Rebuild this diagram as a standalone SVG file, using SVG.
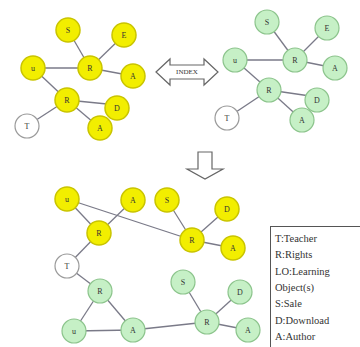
<svg xmlns="http://www.w3.org/2000/svg" width="360" height="347" viewBox="0 0 360 347">
  <style>
    .y circle { fill: #f2ee00; stroke: #c9c400; stroke-width: 1.5; }
    .g circle { fill: #c6f0c6; stroke: #8cc48c; stroke-width: 1.2; }
    .w circle { fill: #ffffff; stroke: #9a9a9a; stroke-width: 1.2; }
    text { font-family: "Liberation Serif", serif; font-size: 8px; fill: #333; text-anchor: middle; dominant-baseline: central; }
    #edges line { stroke: #7a7a88; stroke-width: 1.3; }
    .arrow { fill: #ffffff; stroke: #666; stroke-width: 1.2; }
    .legend text { text-anchor: start; font-size: 10.5px; fill: #333; dominant-baseline: auto; }
  </style>
  <rect width="360" height="347" fill="#ffffff"/>

  <g id="edges">
    <!-- top left graph -->
    <line x1="68" y1="30" x2="90" y2="68"/>
    <line x1="124" y1="35" x2="90" y2="68"/>
    <line x1="33" y1="68" x2="90" y2="68"/>
    <line x1="90" y1="68" x2="133" y2="76"/>
    <line x1="33" y1="68" x2="67" y2="100"/>
    <line x1="67" y1="100" x2="27" y2="126"/>
    <line x1="67" y1="100" x2="117" y2="105"/>
    <line x1="67" y1="100" x2="100" y2="128"/>
    <!-- top right graph -->
    <line x1="267" y1="22" x2="295" y2="60"/>
    <line x1="327" y1="28" x2="295" y2="60"/>
    <line x1="235" y1="60" x2="295" y2="60"/>
    <line x1="295" y1="60" x2="335" y2="68"/>
    <line x1="235" y1="60" x2="269" y2="90"/>
    <line x1="269" y1="90" x2="227" y2="118"/>
    <line x1="269" y1="90" x2="317" y2="97"/>
    <line x1="269" y1="90" x2="302" y2="120"/>
    <!-- merged graph -->
    <line x1="67" y1="199" x2="99" y2="233"/>
    <line x1="67" y1="199" x2="192" y2="240"/>
    <line x1="133" y1="200" x2="99" y2="233"/>
    <line x1="167" y1="200" x2="192" y2="240"/>
    <line x1="227" y1="209" x2="192" y2="240"/>
    <line x1="192" y1="240" x2="233" y2="248"/>
    <line x1="99" y1="233" x2="67" y2="266"/>
    <line x1="67" y1="266" x2="100" y2="291"/>
    <line x1="100" y1="291" x2="74" y2="331"/>
    <line x1="100" y1="291" x2="133" y2="330"/>
    <line x1="74" y1="331" x2="133" y2="330"/>
    <line x1="133" y1="330" x2="207" y2="322"/>
    <line x1="183" y1="282" x2="207" y2="322"/>
    <line x1="240" y1="292" x2="207" y2="322"/>
    <line x1="207" y1="322" x2="248" y2="330"/>
  </g>

  <!-- top left graph nodes -->
  <g id="tl-s" class="y"><circle cx="68" cy="30" r="12"/><text x="68" y="30">S</text></g>
  <g id="tl-e" class="y"><circle cx="124" cy="35" r="12"/><text x="124" y="35">E</text></g>
  <g id="tl-u" class="y"><circle cx="33" cy="68" r="12"/><text x="33" y="68">u</text></g>
  <g id="tl-r" class="y"><circle cx="90" cy="68" r="12"/><text x="90" y="68">R</text></g>
  <g id="tl-a" class="y"><circle cx="133" cy="76" r="12"/><text x="133" y="76">A</text></g>
  <g id="tl-r2" class="y"><circle cx="67" cy="100" r="12"/><text x="67" y="100">R</text></g>
  <g id="tl-d" class="y"><circle cx="117" cy="108" r="12"/><text x="117" y="108">D</text></g>
  <g id="tl-a2" class="y"><circle cx="100" cy="128" r="12"/><text x="100" y="128">A</text></g>
  <g id="tl-t" class="w"><circle cx="27" cy="126" r="12"/><text x="27" y="126">T</text></g>

  <!-- top right graph nodes -->
  <g id="tr-s" class="g"><circle cx="267" cy="22" r="12"/><text x="267" y="22">S</text></g>
  <g id="tr-e" class="g"><circle cx="327" cy="28" r="12"/><text x="327" y="28">E</text></g>
  <g id="tr-u" class="g"><circle cx="235" cy="60" r="12"/><text x="235" y="60">u</text></g>
  <g id="tr-r" class="g"><circle cx="295" cy="60" r="12"/><text x="295" y="60">R</text></g>
  <g id="tr-a" class="g"><circle cx="335" cy="68" r="12"/><text x="335" y="68">A</text></g>
  <g id="tr-r2" class="g"><circle cx="269" cy="90" r="12"/><text x="269" y="90">R</text></g>
  <g id="tr-d" class="g"><circle cx="317" cy="100" r="12"/><text x="317" y="100">D</text></g>
  <g id="tr-a2" class="g"><circle cx="302" cy="120" r="12"/><text x="302" y="120">A</text></g>
  <g id="tr-t" class="w"><circle cx="227" cy="118" r="12"/><text x="227" y="118">T</text></g>

  <!-- exchange arrow -->
  <g id="exchange">
    <path class="arrow" d="M156,72 L170,59 L170,65 L204,65 L204,59 L218,72 L204,85 L204,79 L170,79 L170,85 Z"/>
    <text x="187" y="72" style="font-size:7px">INDEX</text>
  </g>

  <!-- merge arrow -->
  <g id="merge">
    <path class="arrow" d="M198,152 L212,152 L212,169 L223,169 L205,179 L187,169 L198,169 Z"/>
  </g>

  <!-- merged graph nodes -->
  <g id="m-u" class="y"><circle cx="67" cy="199" r="12"/><text x="67" y="199">u</text></g>
  <g id="m-a1" class="y"><circle cx="133" cy="200" r="12"/><text x="133" y="200">A</text></g>
  <g id="m-s" class="y"><circle cx="167" cy="200" r="12"/><text x="167" y="200">S</text></g>
  <g id="m-d" class="y"><circle cx="227" cy="209" r="12"/><text x="227" y="209">D</text></g>
  <g id="m-r1" class="y"><circle cx="99" cy="233" r="12"/><text x="99" y="233">R</text></g>
  <g id="m-r2" class="y"><circle cx="192" cy="240" r="12"/><text x="192" y="240">R</text></g>
  <g id="m-a2" class="y"><circle cx="233" cy="248" r="12"/><text x="233" y="248">A</text></g>
  <g id="m-t" class="w"><circle cx="67" cy="266" r="12"/><text x="67" y="266">T</text></g>
  <g id="m-gr1" class="g"><circle cx="100" cy="291" r="12"/><text x="100" y="291">R</text></g>
  <g id="m-gu" class="g"><circle cx="74" cy="331" r="12"/><text x="74" y="331">u</text></g>
  <g id="m-ga1" class="g"><circle cx="133" cy="330" r="12"/><text x="133" y="330">A</text></g>
  <g id="m-gs" class="g"><circle cx="183" cy="282" r="12"/><text x="183" y="282">S</text></g>
  <g id="m-gd" class="g"><circle cx="240" cy="292" r="12"/><text x="240" y="292">D</text></g>
  <g id="m-gr2" class="g"><circle cx="207" cy="322" r="12"/><text x="207" y="322">R</text></g>
  <g id="m-ga2" class="g"><circle cx="248" cy="330" r="12"/><text x="248" y="330">A</text></g>

  <!-- legend -->
  <g id="legend" class="legend">
    <rect x="270.5" y="226.5" width="95" height="130" fill="#ffffff" stroke="#555" stroke-width="1"/>
    <text x="275" y="242">T:Teacher</text>
    <text x="275" y="258">R:Rights</text>
    <text x="275" y="275">LO:Learning</text>
    <text x="275" y="291">Object(s)</text>
    <text x="275" y="307">S:Sale</text>
    <text x="275" y="324">D:Download</text>
    <text x="275" y="340">A:Author</text>
  </g>
</svg>
